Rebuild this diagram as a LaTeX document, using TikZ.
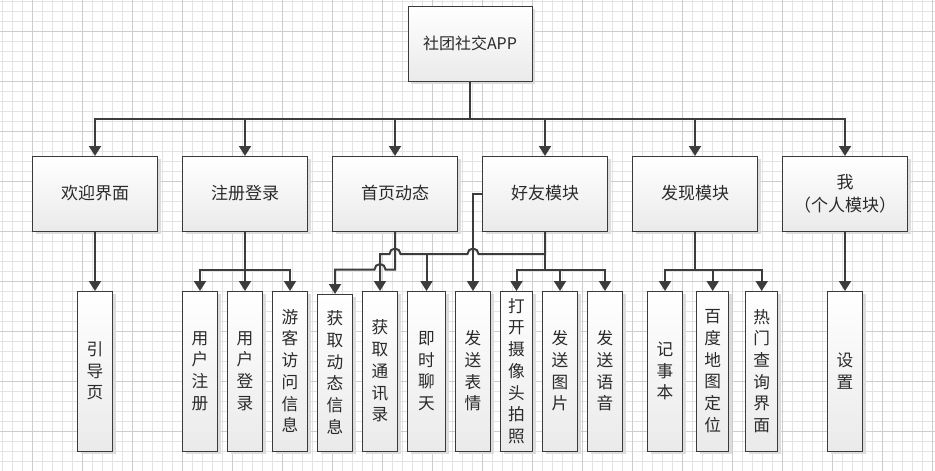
\documentclass[tikz,border=0pt]{standalone}
\usepackage{fontspec}
\setmainfont{Noto Sans CJK SC}
\usetikzlibrary{arrows.meta,shadows,calc}
\definecolor{gridminor}{HTML}{E3E3E3}
\definecolor{gridmajor}{HTML}{CDCDCD}
\definecolor{boxline}{HTML}{3A3A3A}
\definecolor{boxbot}{HTML}{EAEAEA}
\definecolor{shad}{HTML}{DDDDDD}
\definecolor{lin}{HTML}{3C3C3C}
\definecolor{txt}{HTML}{2A2A2A}
\tikzset{
  boxbase/.style={draw=boxline, line width=0.75pt, top color=white, bottom color=boxbot,
    inner sep=0pt, outer sep=0pt, text=txt,
    general shadow={shadow xshift=2.25pt, shadow yshift=-2.25pt, fill=shad}},
  topbox/.style={boxbase, minimum width=93pt, minimum height=56.25pt,
    font=\fontsize{12pt}{14pt}\selectfont},
  midbox/.style={boxbase, minimum width=93.75pt, minimum height=56.25pt, align=center,
    font=\fontsize{12.75pt}{17.25pt}\selectfont},
  leaf/.style={boxbase, minimum width=26.25pt, minimum height=120pt, align=center,
    font=\fontsize{12.5pt}{16.3pt}\selectfont},
  conn/.style={draw=lin, line width=1.5pt},
  arr/.style={conn, -{Triangle[width=9pt,length=7.5pt]}},
  hop/.style={},
  gmin/.style={draw=gridminor, line width=0.75pt},
  gmaj/.style={draw=gridmajor, line width=0.75pt},
}
\begin{document}
\begin{tikzpicture}[x=0.75pt,y=-0.75pt]
\useasboundingbox (0,0) rectangle (935,471);
\fill[white] (0,0) rectangle (935,471);
% grid
\foreach \i in {0,...,93} \draw[gmin] ({2.7+10*\i},0) -- ({2.7+10*\i},471);
\foreach \j in {0,...,46} \draw[gmin] (0,{1.7+10*\j}) -- (935,{1.7+10*\j});
\foreach \i in {0,...,18} \draw[gmaj] ({32.7+50*\i},0) -- ({32.7+50*\i},471);
\foreach \j in {0,...,8} \draw[gmaj] (0,{31.7+50*\j}) -- (935,{31.7+50*\j});

% top
\node[topbox] (app) at (470,43.5) {社团社交APP};
% level 1
\node[midbox] (w1) at (95,193.5) {欢迎界面};
\node[midbox] (w2) at (245,193.5) {注册登录};
\node[midbox] (w3) at (395,193.5) {首页动态};
\node[midbox] (w4) at (545,193.5) {好友模块};
\node[midbox] (w5) at (695,193.5) {发现模块};
\node[midbox] (w6) at (845,193.5) {我\\（个人模块）};
% level 2
\node[leaf] (c1) at (95,371) {引\\导\\页};
\node[leaf] (c2) at (200,371) {用\\户\\注\\册};
\node[leaf] (c3) at (245,371) {用\\户\\登\\录};
\node[leaf] (c4) at (290,371) {游\\客\\访\\问\\信\\息};
\node[leaf, minimum height=117.75pt] (c5) at (335,372.5) {获\\取\\动\\态\\信\\息};
\node[leaf] (c6) at (380,371) {获\\取\\通\\讯\\录};
\node[leaf, minimum width=28.5pt] (c7) at (426.5,371) {即\\时\\聊\\天};
\node[leaf] (c8) at (473,371) {发\\送\\表\\情};
\node[leaf, minimum width=24pt] (c9) at (516.5,371) {打\\开\\摄\\像\\头\\拍\\照};
\node[leaf] (c10) at (560,371) {发\\送\\图\\片};
\node[leaf] (c11) at (605,371) {发\\送\\语\\音};
\node[leaf] (c12) at (665,371) {记\\事\\本};
\node[leaf, minimum width=24pt] (c13) at (712.7,371) {百\\度\\地\\图\\定\\位};
\node[leaf, minimum width=24pt] (c14) at (761.7,371) {热\\门\\查\\询\\界\\面};
\node[leaf] (c15) at (845,371) {设\\置};

\coordinate (ybus) at (0,119);
\coordinate (y254) at (0,254);
\coordinate (y269) at (0,269.5);

% bus
\foreach \w in {w1,w2,w3,w4,w5,w6}
  \draw[arr] (app.south) -- (app.south |- ybus) -| (\w.north);

% 欢迎界面
\draw[arr] (w1.south) -- (c1.north);
% 注册登录
\foreach \c in {c2,c3,c4}
  \draw[arr] (w2.south) -- (w2.south |- y269) -| (\c.north);
% 首页动态
\draw[arr] (w3.south) -- (w3.south |- y269)
  -- ($(c6.north |- y269)+(5.5,0)$) arc[start angle=0,end angle=180,radius=4.125pt]
  -- (c5.north |- y269) -- (c5.north);
% 好友模块
\draw[arr] (w4.south) -- (w4.south |- y254)
  -- ($(c8.north |- y254)+(5.5,0)$) arc[start angle=0,end angle=180,radius=4.125pt]
  -- ($(w3.south |- y254)+(5.5,0)$) arc[start angle=0,end angle=180,radius=4.125pt]
  -- (c6.north |- y254) -- (c6.north);
\draw[arr] (c7.north |- y254) -- (c7.north);
\draw[arr] (w4.west) -| (c8.north);
\foreach \c in {c9,c10,c11}
  \draw[arr] (w4.south) -- (w4.south |- y269) -| (\c.north);
% 发现模块
\foreach \c in {c12,c13,c14}
  \draw[arr] (w5.south) -- (w5.south |- y269) -| (\c.north);
% 我
\draw[arr] (w6.south) -- (c15.north);
\end{tikzpicture}
\end{document}
